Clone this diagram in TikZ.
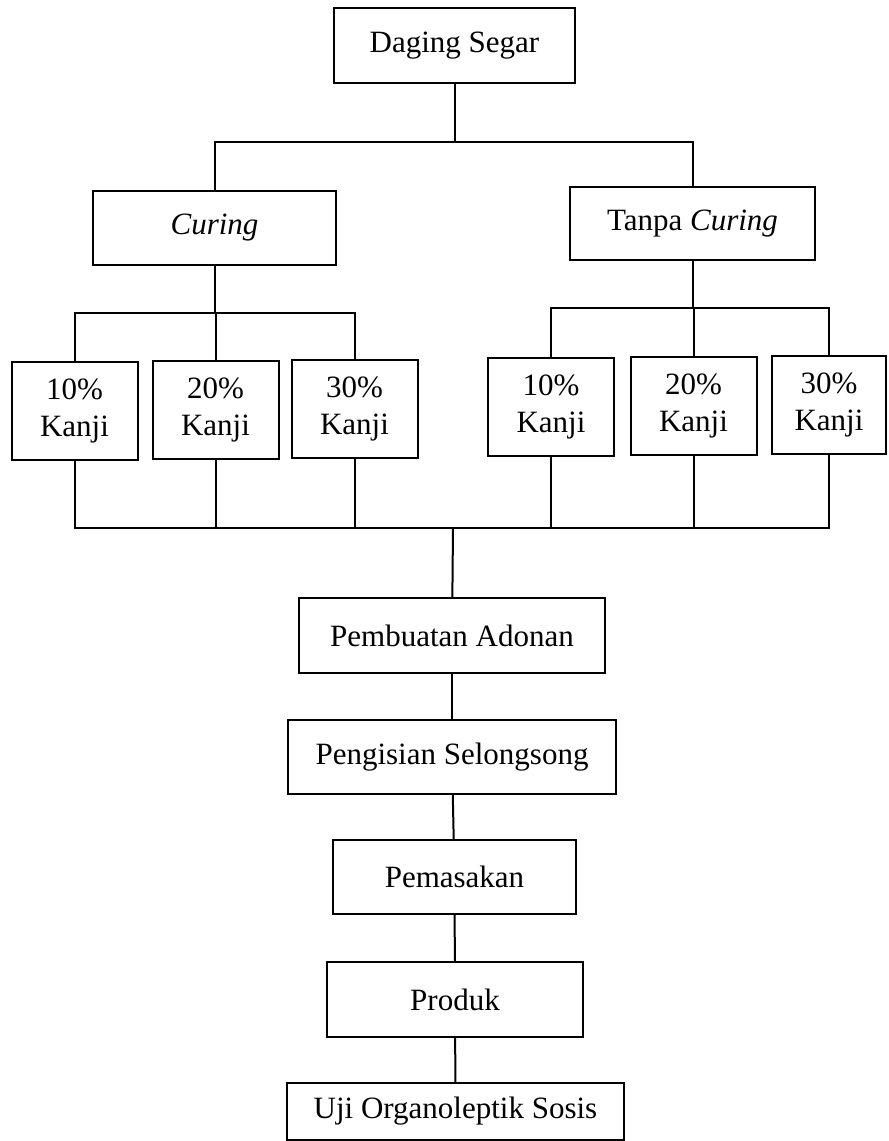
\documentclass[tikz,border=0pt]{standalone}
\usepackage{fontspec}
\setmainfont{Liberation Serif}
\begin{document}
\begin{tikzpicture}[x=1pt, y=-1pt, line width=2pt, line join=miter]
	\tikzset{
	    kotak/.style= {rectangle, draw=black, inner sep=0pt, align=center, font=\fontsize{31}{37}\selectfont},
	    kanji/.style= {kotak, minimum width=126pt, minimum height=98pt},
	}
	\useasboundingbox (0,0) rectangle (889,1141);

	\node[kotak, minimum width=241pt, minimum height=75pt] (daging) at (454.5, 45.5) {Daging Segar};
	\node[kotak, minimum width=243pt, minimum height=74pt] (curing) at (214.5, 228) {\textit{Curing}};
	\node[kotak, minimum width=245pt, minimum height=73pt] (tanpa) at (692.5, 223.5) {Tanpa \textit{Curing}};

	\node[kanji] (c10) at (74.5, 410.5) {10\%\\Kanji};
	\node[kanji] (c20) at (215.5, 410) {20\%\\Kanji};
	\node[kanji] (c30) at (354.5, 408.5) {30\%\\Kanji};
	\node[kanji] (t10) at (551, 407) {10\%\\Kanji};
	\node[kanji] (t20) at (693.5, 405.5) {20\%\\Kanji};
	\node[kanji, minimum width=114pt] (t30) at (829, 404.5) {30\%\\Kanji};

	\node[kotak, minimum width=306pt, minimum height=75pt] (adonan) at (452, 635.5) {Pembuatan Adonan};
	\node[kotak, minimum width=328pt, minimum height=74pt] (isi) at (452, 757) {Pengisian Selongsong};
	\node[kotak, minimum width=243pt, minimum height=74pt] (masak) at (454.5, 877) {Pemasakan};
	\node[kotak, minimum width=256pt, minimum height=75pt] (produk) at (455, 999.5) {Produk};
	\node[kotak, minimum width=337pt, minimum height=57pt] (uji) at (455.5, 1111.5) {Uji Organoleptik Sosis};

	\coordinate (jtop) at (454, 142);
	\coordinate (jkiri) at (214, 313);
	\coordinate (jkanan) at (692, 308);
	\coordinate (jbawah) at (453, 528);

	% cabang atas
	\draw (daging.south) -- (daging.south |- jtop);
	\draw (curing.north) -- (curing.north |- jtop) -- (tanpa.north |- jtop) -- (tanpa.north);

	% cabang kanji
	\draw (curing) -- (curing.south |- jkiri);
	\draw (c10.north) -- (c10.north |- jkiri) -- (c30.north |- jkiri) -- (c30.north);
	\draw (c20) -- (c20.north |- jkiri);
	\draw (tanpa) -- (tanpa.south |- jkanan);
	\draw (t10.north) -- (t10.north |- jkanan) -- (t30.north |- jkanan) -- (t30.north);
	\draw (t20) -- (t20.north |- jkanan);

	% gabung
	\draw (c10.south) -- (c10.south |- jbawah) -- (t30.south |- jbawah) -- (t30.south);
	\foreach \k in {c20, c30, t10, t20}
	    \draw (\k) -- (\k.south |- jbawah);
	\draw (jbawah) -- (adonan);

	\foreach \a/\b in {adonan/isi, isi/masak, masak/produk, produk/uji}
	    \draw (\a) -- (\b);
\end{tikzpicture}
\end{document}
